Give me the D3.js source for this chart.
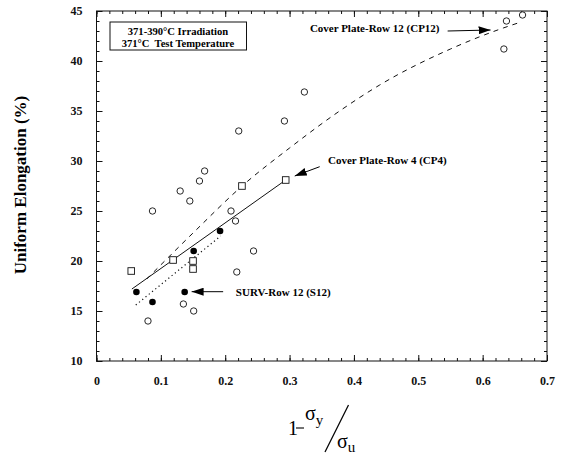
<!DOCTYPE html>
<html>
<head>
<meta charset="utf-8">
<script src="https://cdn.jsdelivr.net/npm/d3@7"></script>
<style>
  body { margin: 0; background: #fff; }
  svg text { font-family: "Liberation Serif", "Times New Roman", serif; }
</style>
</head>
<body>
<svg id="chart" width="567" height="454"></svg>
<script>
// data
var cp4X = [0.054, 0.119, 0.150, 0.150, 0.226, 0.294];
var cp4Y = [19.0, 20.1, 20.0, 19.2, 27.5, 28.1];

var s12X = [0.062, 0.087, 0.137, 0.151, 0.192];
var s12Y = [16.9, 15.9, 16.9, 21.0, 23.0];

var cp12X = [0.080, 0.087, 0.130, 0.135, 0.145, 0.151, 0.160, 0.168, 0.209, 0.216,
             0.218, 0.221, 0.244, 0.292, 0.323, 0.633, 0.637, 0.662];
var cp12Y = [14.0, 25.0, 27.0, 15.7, 26.0, 15.0, 28.0, 29.0, 25.0, 24.0,
             18.9, 33.0, 21.0, 34.0, 36.9, 41.2, 44.0, 44.6];

// trend lines
var cp4FitX = [0.055, 0.294];
var cp4FitY = [17.2, 28.1];
var s12FitX = [0.061, 0.193];
var s12FitY = [15.6, 22.5];
var cp12FitX = [0.078, 0.150, 0.228, 0.300, 0.380, 0.440, 0.550, 0.632, 0.655];
var cp12FitY = [18.2, 22.8, 27.6, 31.3, 35.1, 37.6, 41.2, 43.3, 43.8];

var xTicks = [0, 0.1, 0.2, 0.3, 0.4, 0.5, 0.6, 0.7];
var yTicks = [10, 15, 20, 25, 30, 35, 40, 45];

var svg = d3.select('#chart');
var x = d3.scaleLinear().domain([0, 0.7]).range([96.5, 547]);
var y = d3.scaleLinear().domain([10, 45]).range([361, 11]);

function zip(xs, ys) { return xs.map(function(v, i) { return [v, ys[i]]; }); }

var minorX = d3.range(0, 0.7001, 0.02);
var minorY = d3.range(10, 45.001, 1);

// axes, ticks pointing inward on all four sides
function styleAxis(g) {
  g.select('.domain').remove();
  g.selectAll('line').attr('stroke', '#111');
  g.selectAll('text').attr('font-size', 12).attr('font-weight', 'bold').attr('fill', '#111');
}
svg.append('g').attr('transform', 'translate(0,361)')
  .call(d3.axisBottom(x).tickValues(xTicks).tickSize(-6).tickPadding(15).tickFormat(d3.format('')))
  .call(styleAxis);
svg.append('g').attr('transform', 'translate(0,361)')
  .call(d3.axisBottom(x).tickValues(minorX).tickSize(-3).tickFormat(''))
  .call(styleAxis);
svg.append('g').attr('transform', 'translate(0,11)')
  .call(d3.axisTop(x).tickValues(xTicks).tickSize(-6).tickFormat(''))
  .call(styleAxis);
svg.append('g').attr('transform', 'translate(0,11)')
  .call(d3.axisTop(x).tickValues(minorX).tickSize(-3).tickFormat(''))
  .call(styleAxis);
svg.append('g').attr('transform', 'translate(96.5,0)')
  .call(d3.axisLeft(y).tickValues(yTicks).tickSize(-6).tickPadding(14))
  .call(styleAxis);
svg.append('g').attr('transform', 'translate(96.5,0)')
  .call(d3.axisLeft(y).tickValues(minorY).tickSize(-3).tickFormat(''))
  .call(styleAxis);
svg.append('g').attr('transform', 'translate(547,0)')
  .call(d3.axisRight(y).tickValues(yTicks).tickSize(-6).tickFormat(''))
  .call(styleAxis);
svg.append('g').attr('transform', 'translate(547,0)')
  .call(d3.axisRight(y).tickValues(minorY).tickSize(-3).tickFormat(''))
  .call(styleAxis);

svg.append('rect')
  .attr('x', x(0)).attr('y', y(45))
  .attr('width', x(0.7) - x(0)).attr('height', y(10) - y(45))
  .attr('fill', 'none').attr('stroke', '#111').attr('stroke-width', 1);

// trend lines
var line = d3.line().x(function(d) { return x(d[0]); }).y(function(d) { return y(d[1]); });
svg.append('path').datum(zip(cp12FitX, cp12FitY))
  .attr('d', line.curve(d3.curveMonotoneX))
  .attr('fill', 'none').attr('stroke', '#111').attr('stroke-width', 1)
  .attr('stroke-dasharray', '5,5');
line.curve(d3.curveLinear);
svg.append('path').datum(zip(cp4FitX, cp4FitY))
  .attr('d', line)
  .attr('fill', 'none').attr('stroke', '#111').attr('stroke-width', 1);
svg.append('path').datum(zip(s12FitX, s12FitY))
  .attr('d', line)
  .attr('fill', 'none').attr('stroke', '#111').attr('stroke-width', 1.2)
  .attr('stroke-dasharray', '1.2,3');

// points
svg.append('g').selectAll('circle.cp12').data(zip(cp12X, cp12Y)).enter()
  .append('circle')
  .attr('cx', function(d) { return x(d[0]); })
  .attr('cy', function(d) { return y(d[1]); })
  .attr('r', 3.2)
  .attr('fill', '#fff').attr('stroke', '#111').attr('stroke-width', 0.9);

svg.append('g').selectAll('rect.cp4').data(zip(cp4X, cp4Y)).enter()
  .append('rect')
  .attr('x', function(d) { return x(d[0]) - 3.3; })
  .attr('y', function(d) { return y(d[1]) - 3.3; })
  .attr('width', 6.6).attr('height', 6.6)
  .attr('fill', '#fff').attr('stroke', '#111').attr('stroke-width', 0.9);

svg.append('g').selectAll('circle.s12').data(zip(s12X, s12Y)).enter()
  .append('circle')
  .attr('cx', function(d) { return x(d[0]); })
  .attr('cy', function(d) { return y(d[1]); })
  .attr('r', 3.3)
  .attr('fill', '#000');

// annotations with arrows
svg.append('defs').append('marker')
  .attr('id', 'head').attr('viewBox', '0 0 12 8')
  .attr('refX', 12).attr('refY', 4)
  .attr('markerWidth', 12).attr('markerHeight', 8)
  .attr('markerUnits', 'userSpaceOnUse').attr('orient', 'auto')
  .append('path').attr('d', 'M0,0L12,4L0,8Z').attr('fill', '#000');

var notes = [
  { text: 'Cover Plate-Row 12 (CP12)', tx: 0.533, ty: 43.27, anchor: 'end', from: [0.5456, 43.0], to: [0.6123, 43.1] },
  { text: 'Cover Plate-Row 4 (CP4)', tx: 0.3598, ty: 30.1, anchor: 'start', from: [0.3468, 29.43], to: [0.3080, 28.5] },
  { text: 'SURV-Row 12 (S12)', tx: 0.2165, ty: 16.93, anchor: 'start', from: [0.1968, 16.93], to: [0.1478, 16.93] }
];
notes.forEach(function(n) {
  svg.append('line')
    .attr('x1', x(n.from[0])).attr('y1', y(n.from[1]))
    .attr('x2', x(n.to[0])).attr('y2', y(n.to[1]))
    .attr('stroke', '#000').attr('stroke-width', 1)
    .attr('marker-end', 'url(#head)');
  svg.append('text')
    .attr('x', x(n.tx)).attr('y', y(n.ty)).attr('dy', '0.35em')
    .attr('text-anchor', n.anchor)
    .attr('font-size', 11).attr('font-weight', 'bold')
    .text(n.text);
});

// condition box
svg.append('rect')
  .attr('x', 110).attr('y', 22).attr('width', 136.5).attr('height', 28)
  .attr('fill', '#fff').attr('stroke', '#111').attr('stroke-width', 1);
svg.append('text').attr('x', 178).attr('y', 34.8)
  .attr('text-anchor', 'middle').attr('font-size', 10.6).attr('font-weight', 'bold')
  .text('371-390°C Irradiation');
svg.append('text').attr('x', 178).attr('y', 46.5)
  .attr('text-anchor', 'middle').attr('font-size', 10.6).attr('font-weight', 'bold')
  .attr('xml:space', 'preserve')
  .text('371°C  Test Temperature');

// axis titles
svg.append('text')
  .attr('transform', 'translate(26,185) rotate(-90)')
  .attr('text-anchor', 'middle').attr('font-size', 17).attr('font-weight', 'bold')
  .text('Uniform Elongation (%)');

var xt = svg.append('g');
xt.append('text').attr('x', 288).attr('y', 435).attr('font-size', 20).text('1');
xt.append('line').attr('x1', 296).attr('y1', 428).attr('x2', 304).attr('y2', 428)
  .attr('stroke', '#000').attr('stroke-width', 1.1);
xt.append('text').attr('x', 305).attr('y', 420).attr('font-size', 20)
  .text('σ').append('tspan').attr('dy', 5).attr('font-size', 15).text('y');
xt.append('line').attr('x1', 325).attr('y1', 452).attr('x2', 348.5).attr('y2', 405)
  .attr('stroke', '#000').attr('stroke-width', 1.2);
xt.append('text').attr('x', 337).attr('y', 448).attr('font-size', 20)
  .text('σ').append('tspan').attr('dy', 4).attr('font-size', 15).text('u');
</script>
</body>
</html>
